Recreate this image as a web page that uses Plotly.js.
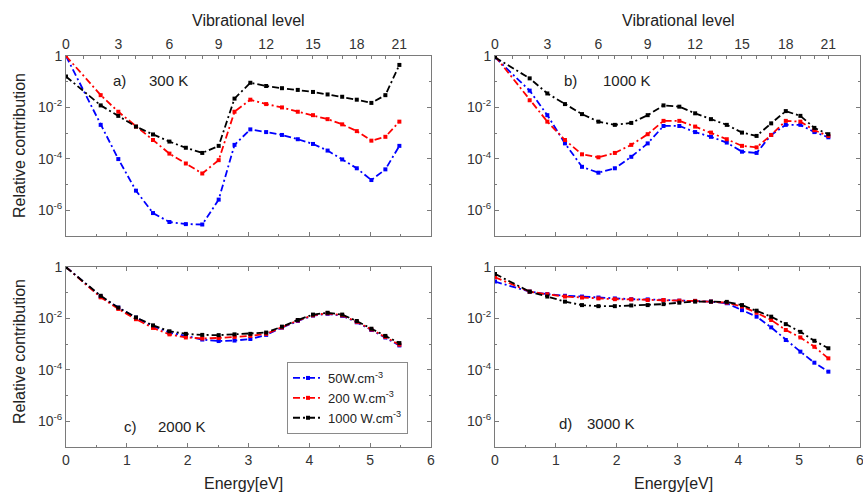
<!DOCTYPE html>
<html><head><meta charset="utf-8">
<script src="https://cdn.plot.ly/plotly-3.0.1.min.js"></script>
<style>body{margin:0;background:#fff}</style></head>
<body><div id="chart" style="width:863px;height:492px"></div>
<script>
// vibrational levels plotted and their energies (eV)
const levels = [0,2,3,4,5,6,7,8,9,10,11,12,13,14,15,16,17,18,19,20,21];
const energy = [0,0.57,0.86,1.15,1.43,1.70,1.97,2.24,2.51,2.77,3.03,3.29,3.55,3.81,4.06,4.30,4.54,4.78,5.02,5.25,5.48];
// top axis: labelled vibrational levels and all levels (tick positions in eV)
const labelLevels = ['0','3','6','9','12','15','18','21'];
const labelEnergy = [0,0.86,1.70,2.51,3.29,4.06,4.78,5.48];
const levelEnergy = [0.29,0.57,1.15,1.43,1.97,2.24,2.77,3.03,3.55,3.81,4.30,4.54,5.02,5.25];
const seriesNames = ['50W.cm<sup>-3</sup>','200 W.cm<sup>-3</sup>','1000 W.cm<sup>-3</sup>'];
const seriesColors = ['#0000ff','#ff0000','#000000'];

// a) 300 K
const a_50  = [1,2.1e-3,9.8e-5,5.8e-6,7.8e-7,3.5e-7,2.9e-7,2.8e-7,2.6e-6,3.5e-4,1.4e-3,1.1e-3,8.5e-4,5.8e-4,3.8e-4,2.1e-4,9.5e-5,4.3e-5,1.5e-5,3.9e-5,3.2e-4];
const a_200 = [1,3.0e-2,6.8e-3,1.8e-3,5.4e-4,1.6e-4,6.6e-5,2.7e-5,8.9e-5,6.8e-3,2.0e-2,1.35e-2,1.0e-2,6.8e-3,5.0e-3,3.5e-3,2.2e-3,1.2e-3,5.1e-4,7.2e-4,2.8e-3];
const a_1000= [0.16,1.2e-2,4.7e-3,1.8e-3,8.9e-4,4.7e-4,2.7e-4,1.7e-4,3.2e-4,2.2e-2,9.1e-2,6.8e-2,5.6e-2,4.8e-2,4.0e-2,3.2e-2,2.6e-2,2.0e-2,1.5e-2,3.0e-2,0.45];
// b) 1000 K
const b_50  = [0.89,4.5e-2,5.0e-3,4.0e-4,4.9e-5,2.9e-5,4.3e-5,1.2e-4,4.0e-4,1.9e-3,1.9e-3,1.1e-3,7.2e-4,4.3e-4,1.9e-4,1.7e-4,8.5e-4,2.1e-3,2.1e-3,1.1e-3,6.9e-4];
const b_200 = [1,1.9e-2,2.8e-3,5.4e-4,1.5e-4,1.15e-4,1.7e-4,3.5e-4,9.1e-4,3.0e-3,3.0e-3,1.8e-3,1.05e-3,5.8e-4,3.2e-4,2.8e-4,8.5e-4,3.0e-3,2.8e-3,1.3e-3,7.8e-4];
const b_1000= [0.89,0.135,3.5e-2,1.35e-2,5.5e-3,2.8e-3,2.1e-3,2.5e-3,5.0e-3,1.2e-2,1.07e-2,5.9e-3,3.5e-3,2.1e-3,1.05e-3,7.8e-4,2.4e-3,7.2e-3,4.7e-3,1.6e-3,9.1e-4];
// c) 2000 K
const c_50  = [1,0.0708,0.0263,0.0107,0.00501,0.00282,0.00209,0.00151,0.00132,0.00138,0.00158,0.00229,0.00437,0.00794,0.0129,0.0151,0.0126,0.00708,0.00355,0.00182,0.00089];
const c_200 = [1,0.0661,0.0234,0.00933,0.00427,0.0024,0.00182,0.00166,0.00174,0.00191,0.00209,0.00251,0.00447,0.00832,0.0132,0.0158,0.0132,0.00741,0.00372,0.00191,0.00095];
const c_1000= [0.98,0.0759,0.0263,0.01096,0.00537,0.00316,0.00251,0.00229,0.00224,0.0024,0.00251,0.00282,0.00479,0.00871,0.0141,0.0166,0.0141,0.00794,0.00398,0.00209,0.0011];
// d) 3000 K
const d_50  = [0.27,0.11,0.089,0.076,0.071,0.065,0.060,0.056,0.055,0.052,0.049,0.048,0.045,0.039,0.021,0.0117,0.0045,0.00145,0.00051,0.00019,0.000085];
const d_200 = [0.40,0.11,0.087,0.071,0.065,0.060,0.056,0.055,0.052,0.052,0.049,0.048,0.045,0.041,0.029,0.0166,0.0087,0.00355,0.00182,0.00079,0.00028];
const d_1000= [0.54,0.11,0.071,0.045,0.033,0.030,0.030,0.032,0.033,0.036,0.041,0.045,0.045,0.044,0.033,0.020,0.0117,0.0060,0.0030,0.00135,0.00069];

const panels = [
  {xa:'x', ya:'y',  data:[a_50,a_200,a_1000]},
  {xa:'x2',ya:'y2', data:[b_50,b_200,b_1000]},
  {xa:'x3',ya:'y3', data:[c_50,c_200,c_1000]},
  {xa:'x4',ya:'y4', data:[d_50,d_200,d_1000]}
];
const traces = [];
panels.forEach((p,pi)=>{
  p.data.forEach((vals,si)=>{
    traces.push({
      type:'scatter', mode:'lines+markers', x:energy, y:vals,
      xaxis:p.xa, yaxis:p.ya, name:seriesNames[si],
      showlegend: pi===2, hoverinfo:'skip',
      line:{color:seriesColors[si], width:1.8, dash:'7px,3px,2px,3px'},
      marker:{symbol:'square', size:4, color:seriesColors[si]}
    });
  });
});
// invisible traces so the top (vibrational level) axes are drawn
['x5','x6'].forEach((xa,i)=>{
  traces.push({type:'scatter', mode:'markers', x:[0], y:[1], xaxis:xa, yaxis: i===0?'y':'y2',
    marker:{opacity:0}, showlegend:false, hoverinfo:'skip'});
});

const W=863, H=492;
const dxL=[66/W,431/W], dxR=[495/W,860/W];
const dyT=[1-236/H,1-56/H], dyB=[1-447/H,1-267/H];
const axColor='#7a7a7a', font='Liberation Sans, Arial, sans-serif';
const tickFont={family:font,size:14,color:'#333'};

function xAx(domain, anchor, labels){
  return {domain:domain, anchor:anchor, range:[0,6], tickvals:[0,1,2,3,4,5,6],
    showticklabels:labels, ticks:'inside', ticklen:4, tickcolor:axColor,
    showline:true, linecolor:axColor, linewidth:1, mirror: labels ? 'ticks' : false,
    showgrid:false, zeroline:false, tickfont:tickFont, ticklabeloverflow:'allow',
    minor:{tickvals:[0.5,1.5,2.5,3.5,4.5,5.5], ticks:'inside', ticklen:2, tickcolor:axColor}};
}
function yAx(domain, anchor){
  return {domain:domain, anchor:anchor, type:'log', range:[-7,0],
    tickvals:[1,1e-2,1e-4,1e-6], ticktext:['1','10<sup>-2</sup>','10<sup>-4</sup>','10<sup>-6</sup>'],
    ticks:'inside', ticklen:4, tickcolor:axColor, showline:true, linecolor:axColor, linewidth:1,
    mirror:'ticks', showgrid:false, zeroline:false, tickfont:tickFont,
    minor:{tickvals:[1e-1,1e-3,1e-5,1e-7], ticks:'inside', ticklen:2, tickcolor:axColor}};
}
function topAx(overlay, anchor){
  return {overlaying:overlay, anchor:anchor, side:'top', range:[0,6],
    tickvals:labelEnergy, ticktext:labelLevels,
    ticks:'inside', ticklen:3, tickcolor:axColor, showline:true, linecolor:axColor, linewidth:1,
    showgrid:false, zeroline:false, tickfont:tickFont,
    minor:{tickvals:levelEnergy, ticks:'inside', ticklen:3, tickcolor:axColor}};
}

const annFont={family:font,size:15,color:'#222'};
function ann(text,x,y,extra){
  return Object.assign({text:text, x:x/W, y:1-y/H, xref:'paper', yref:'paper', showarrow:false,
    font:annFont, xanchor:'left', yanchor:'middle'}, extra||{});
}
const titleFont={family:font,size:16,color:'#222'};
const annotations = [
  ann('a)',111,80), ann('300 K',147,80),
  ann('b)',562,80), ann('1000 K',601,80),
  ann('c)',122,426), ann('2000 K',156,426),
  ann('d)',557,423), ann('3000 K',585,423),
  ann('Vibrational level',249,20,{xanchor:'center',font:titleFont}),
  ann('Vibrational level',678,20,{xanchor:'center',font:titleFont}),
  ann('Energy[eV]',243,483,{xanchor:'center',font:titleFont}),
  ann('Energy[eV]',673,483,{xanchor:'center',font:titleFont}),
  ann('Relative contribution',19,146,{xanchor:'center',textangle:-90,font:titleFont}),
  ann('Relative contribution',19,352,{xanchor:'center',textangle:-90,font:titleFont})
];

const layout = {
  width:W, height:H, margin:{l:0,r:0,t:0,b:0},
  paper_bgcolor:'#fff', plot_bgcolor:'#fff', font:{family:font},
  xaxis: xAx(dxL,'y',false), yaxis: yAx(dyT,'x'),
  xaxis2: xAx(dxR,'y2',false), yaxis2: yAx(dyT,'x2'),
  xaxis3: xAx(dxL,'y3',true), yaxis3: yAx(dyB,'x3'),
  xaxis4: xAx(dxR,'y4',true), yaxis4: yAx(dyB,'x4'),
  xaxis5: topAx('x','y'), xaxis6: topAx('x2','y2'),
  showlegend:true,
  legend:{x:287/W, y:1-362/H, xanchor:'left', yanchor:'top', bgcolor:'#fff',
    bordercolor:'#8a8a8a', borderwidth:1, font:{family:font,size:13,color:'#222'},
    itemwidth:30, tracegroupgap:0},
  annotations: annotations
};
Plotly.newPlot('chart', traces, layout, {staticPlot:true, displayModeBar:false});
</script></body></html>
